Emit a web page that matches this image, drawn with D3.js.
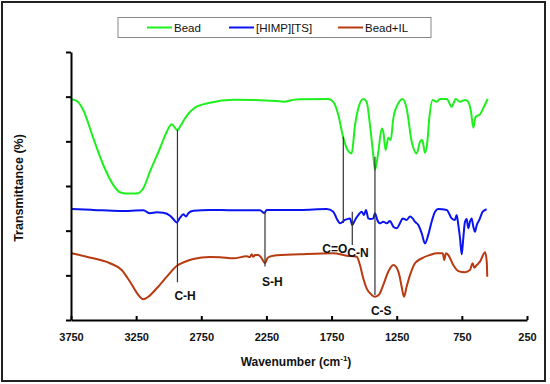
<!DOCTYPE html>
<html><head><meta charset="utf-8">
<script src="https://cdn.jsdelivr.net/npm/d3@7"></script>
<style>
html,body{margin:0;padding:0;background:#fff;}
text{font-family:"Liberation Sans",Arial,sans-serif;}
</style></head>
<body>
<svg id="chart" width="550" height="384"></svg>
<script>
// ---- Data ----
const seriesNames = ["Bead", "[HIMP][TS]", "Bead+IL"];
const seriesColors = ["#1ef01e", "#0a14f0", "#b83a10"];

const beadWn = [3750,3706,3656,3579,3502,3425,3374,3322,3246,3195,3144,3067,3015,2977,2933,2913,2875,2798,2683,2504,2299,2146,2108,2069,1992,1775,1737,1698,1665,1634,1596,1570,1545,1507,1481,1455,1430,1417,1391,1365,1353,1335,1315,1296,1276,1238,1204,1174,1135,1097,1071,1054,1033,1015,1000,974,943,918,866,828,797,764,726,701,680,662,644,611,586,552];
const beadT  = [98.8,98.1,94.0,81.4,69.4,60.4,57.2,56.6,56.6,59.0,66.4,76.9,84.3,87.6,85.0,86.6,90.3,95.1,97.3,98.6,98.4,97.9,97.7,98.3,98.8,99.0,97.7,91.8,82.8,76.9,74.6,87.3,94.8,99.0,97.7,87.3,73.9,67.2,75.4,85.8,84.3,76.1,81.6,80.6,90.3,97.0,99.0,94.8,79.8,74.6,79.8,80.6,74.9,79.8,90.3,98.5,97.7,99.0,99.0,95.5,99.0,97.7,98.5,97.7,93.3,86.1,91.0,92.1,94.8,99.0];

const himpWn = [3745,3579,3374,3195,3144,3092,3042,2990,2965,2939,2913,2888,2867,2850,2811,2683,2504,2299,2266,2248,1992,1787,1737,1711,1685,1647,1609,1591,1570,1545,1519,1501,1486,1468,1450,1430,1417,1399,1378,1353,1327,1302,1276,1250,1225,1204,1174,1148,1128,1110,1084,1058,1033,1008,982,956,931,866,828,803,790,777,764,751,739,726,713,701,688,675,662,649,636,616,590,560];
const himpT  = [49.7,49.3,48.8,49.1,47.8,48.2,48.0,46.7,45.2,43.7,45.8,47.3,46.3,47.8,48.9,49.3,49.1,49.1,47.9,49.3,49.3,49.7,48.5,45.5,43.3,44.8,45.5,42.5,44.8,47.0,48.5,47.0,49.3,45.5,45.2,45.5,47.8,44.8,43.3,44.0,43.3,44.3,41.8,41.1,43.3,45.5,44.8,46.3,45.5,44.0,42.5,38.8,34.3,38.1,44.0,48.5,49.7,49.3,45.5,44.8,47.0,42.5,36.6,29.4,36.6,44.0,45.2,41.1,44.0,45.5,41.8,39.5,42.5,44.8,48.5,49.6];

const beadILWn = [3745,3630,3451,3361,3297,3233,3195,3157,3092,3015,2939,2875,2811,2683,2606,2504,2402,2376,2363,2351,2338,2312,2286,2261,2240,2197,1992,1737,1634,1557,1532,1507,1481,1442,1417,1384,1353,1315,1276,1256,1230,1212,1194,1174,1148,1110,1058,995,943,897,885,872,854,816,777,726,688,667,655,636,611,572,559,555];
const beadILT  = [29.9,28.3,25.4,22.4,17.1,11.2,9.3,10.4,14.2,19.4,24.2,26.1,27.3,28.2,28.1,27.6,28.5,28.2,29.4,28.3,29.1,29.1,27.6,25.4,27.9,28.8,29.4,29.9,28.8,28.3,24.6,18.7,14.2,11.2,10.4,11.5,15.7,21.6,24.6,23.9,20.1,14.9,10.4,14.9,20.1,25.4,27.6,29.1,29.9,29.9,26.9,29.9,29.1,24.6,21.9,21.4,22.4,25.4,23.4,24.6,26.1,30.3,26.1,19.4];

// Band assignment markers
const markerLabels = ["C-H", "S-H", "C=O", "C-N", "C-S"];
const markerWn     = [2933, 2261, 1660, 1591, 1417];
const markerTop    = [85.1, 48.4, 82.1, 48.5, 73.1];
const markerBottom = [16.9, 23.9, 43.4, 33.6, 11.2];

const xTicks = [3750, 3250, 2750, 2250, 1750, 1250, 750, 250];
const yTicks = [0, 20, 40, 60, 80, 100, 120];

// ---- Drawing ----
const svg = d3.select("#chart");
const x = d3.scaleLinear().domain([3750, 250]).range([71, 527]);
const y = d3.scaleLinear().domain([0, 120]).range([320, 52]);

// outer frame
svg.append("rect").attr("x", 2).attr("y", 2).attr("width", 543).attr("height", 379)
  .attr("fill", "none").attr("stroke", "#222").attr("stroke-width", 2);

// series
const series = [
  {wn: beadWn, t: beadT},
  {wn: himpWn, t: himpT},
  {wn: beadILWn, t: beadILT}
];
const line = d3.line().x(d => x(d[0])).y(d => y(d[1])).curve(d3.curveMonotoneX);
series.forEach((s, i) => {
  const pts = s.wn.map((w, j) => [w, s.t[j]]);
  svg.append("path").datum(pts).attr("d", line)
    .attr("fill", "none").attr("stroke", seriesColors[i]).attr("stroke-width", 2)
    .attr("stroke-linejoin", "round");
});

// marker lines and labels
const labelOffsets = [[-3, 18, "start"], [-3, 19, "start"], [4, 30, "end"], [-5, 12, "start"], [-4, 20, "start"]];
markerWn.forEach((w, i) => {
  svg.append("line").attr("x1", x(w)).attr("x2", x(w))
    .attr("y1", y(markerTop[i])).attr("y2", y(markerBottom[i]))
    .attr("stroke", "#333").attr("stroke-width", 1.2);
  const o = labelOffsets[i];
  svg.append("text").attr("x", x(w) + o[0]).attr("y", y(markerBottom[i]) + o[1])
    .attr("text-anchor", o[2]).attr("font-size", 12).attr("font-weight", "bold")
    .attr("fill", "#111").text(markerLabels[i]);
});

// axes
const xAxis = d3.axisBottom(x).tickValues(xTicks).tickFormat(d3.format("d"))
  .tickSizeInner(-4).tickSizeOuter(0).tickPadding(13);
const gx = svg.append("g").attr("transform", "translate(0,320)").call(xAxis);
gx.select(".domain").attr("stroke", "#000").attr("stroke-width", 2);
gx.selectAll(".tick line").attr("stroke", "#000").attr("stroke-width", 2);
gx.selectAll(".tick text").attr("font-size", 11).attr("font-weight", "bold")
  .attr("fill", "#111").style("font-family", "'Liberation Sans', Arial, sans-serif");

const yAxis = d3.axisLeft(y).tickValues(yTicks).tickFormat("").tickSizeInner(5).tickSizeOuter(0);
const gy = svg.append("g").attr("transform", "translate(71,0)").call(yAxis);
gy.select(".domain").attr("stroke", "#000").attr("stroke-width", 2);
gy.selectAll(".tick line").attr("stroke", "#000").attr("stroke-width", 2);

// axis titles
const xt = svg.append("text").attr("x", 296).attr("y", 366).attr("text-anchor", "middle")
  .attr("font-size", 12).attr("font-weight", "bold").attr("fill", "#111");
xt.append("tspan").text("Wavenumber (cm");
xt.append("tspan").attr("font-size", 8).attr("dy", -5).text("-1");
xt.append("tspan").attr("dy", 5).text(")");

svg.append("text").attr("transform", "translate(23,188) rotate(-90)")
  .attr("text-anchor", "middle").attr("font-size", 12.5).attr("font-weight", "bold")
  .attr("fill", "#111").text("Transmittance (%)");

// legend
svg.append("rect").attr("x", 118).attr("y", 17.5).attr("width", 313).attr("height", 20)
  .attr("fill", "#fff").attr("stroke", "#888").attr("stroke-width", 1);
const legendLineX = [147, 229, 338];
seriesNames.forEach((n, i) => {
  const lx = legendLineX[i];
  svg.append("line").attr("x1", lx).attr("x2", lx + 25).attr("y1", 27.5).attr("y2", 27.5)
    .attr("stroke", seriesColors[i]).attr("stroke-width", 2);
  svg.append("text").attr("x", lx + 27).attr("y", 32).attr("font-size", 11.5)
    .attr("fill", "#111").text(n);
});
</script>
</body></html>
